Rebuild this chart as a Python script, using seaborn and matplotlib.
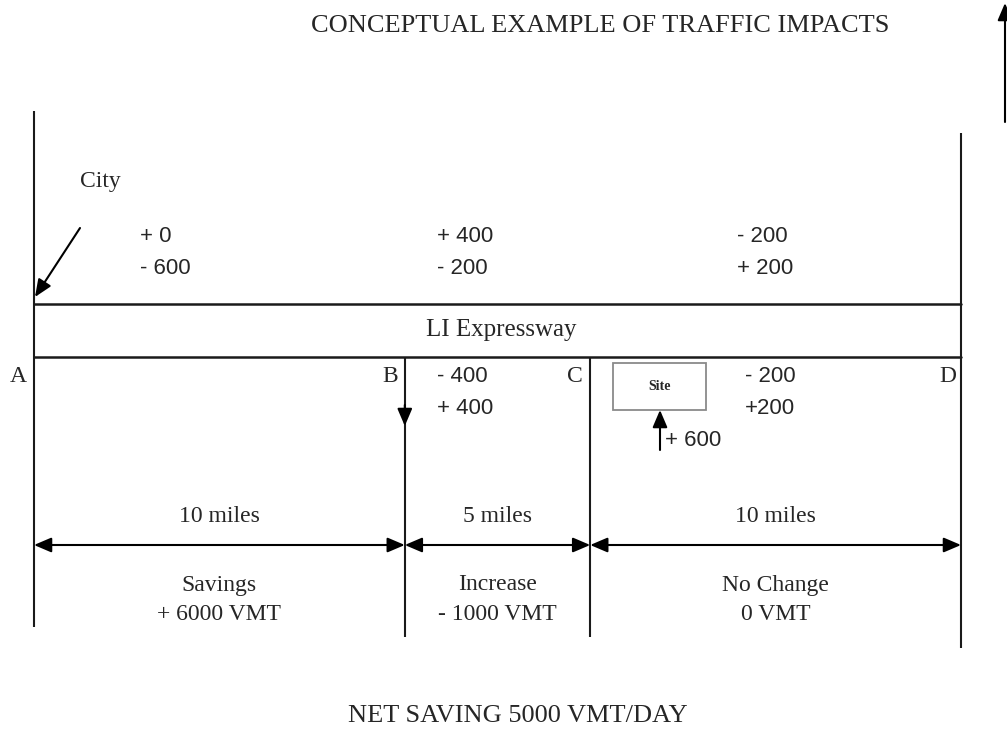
import numpy as np
import matplotlib
matplotlib.use("Agg")
import matplotlib.pyplot as plt
from matplotlib.patches import Rectangle
import seaborn as sns

# datos del esquema
section_miles = [10, 5, 10]
point_names = ["A", "B", "C", "D"]
section_labels = ["Savings", "Increase", "No Change"]
section_vmt = ["+ 6000 VMT", "- 1000 VMT", "0 VMT"]
upper_flows = [["+ 0", "- 600"], ["+ 400", "- 200"], ["- 200", "+ 200"]]
lower_flows = [["- 400", "+ 400"], ["- 200", "+200"]]
site_trips = "+ 600"
title = "CONCEPTUAL EXAMPLE OF TRAFFIC IMPACTS"
road_name = "LI Expressway"
net_text = "NET SAVING 5000 VMT/DAY"

sns.set_theme(style="white")
plt.rcParams['font.family'] = ['Liberation Serif', 'DejaVu Serif']
num_font = ['Liberation Sans Narrow', 'Liberation Sans', 'DejaVu Sans']

PX = 37.08   # px por milla
X0 = 34      # px del punto A
def mx(px):
    return (px - X0) / PX

fig = plt.figure(figsize=(10.07, 7.38), dpi=100)
ax = fig.add_axes([0, 0, 1, 1])
ax.set_xlim(mx(0), mx(1007))
ax.set_ylim(738, 0)
ax.axis("off")

bounds = np.concatenate([[0], np.cumsum(section_miles)])
centers = (bounds[:-1] + bounds[1:]) / 2
lc = "#1a1a1a"

# lineas verticales A, B, C, D
v_top = [111, 357, 357, 133]
v_bot = [627, 637, 637, 648]
for b, t, e in zip(bounds, v_top, v_bot):
    ax.plot([b, b], [t, e], color=lc, lw=1.5, solid_capstyle="butt")

# bordes de la autopista
for y in [304, 357]:
    sns.lineplot(x=[bounds[0], bounds[-1]], y=[y, y], color=lc, lw=1.8, ax=ax)

def arrow(x1, y1, x2, y2, style="-|>"):
    ax.annotate("", xy=(x2, y2), xytext=(x1, y1),
                arrowprops=dict(arrowstyle=style + ",head_length=0.75,head_width=0.32",
                                color="black", lw=1.5, shrinkA=0, shrinkB=0,
                                mutation_scale=14))

# flecha norte (arriba derecha)
arrow(mx(1005), 122, mx(1005), 3)
# flecha City
arrow(mx(80), 228, mx(35), 297)
# flecha hacia abajo en B
arrow(bounds[1], 405, bounds[1], 426)
# flecha del sitio
arrow(mx(660), 450, mx(660), 410)

# flechas de distancia
for i in range(len(section_miles)):
    arrow(bounds[i], 545, bounds[i + 1], 545, style="<|-|>")

# textos
fs = 17
nfs = 16
ax.text(mx(600), 26, title, ha="center", va="center", fontsize=19)
ax.text(mx(80), 181, "City", ha="left", va="center", fontsize=fs)
ax.text(centers.mean() + 0.1, 330, road_name, ha="center", va="center", fontsize=18)

label_x = [mx(18), mx(390), mx(575), mx(948)]
for name, x in zip(point_names, label_x):
    ax.text(x, 377, name, ha="center", va="center", fontsize=fs)

upper_x = [mx(140), mx(437), mx(737)]
for (a, b), x in zip(upper_flows, upper_x):
    ax.text(x, 237, a, ha="left", va="center", fontsize=nfs, family=num_font)
    ax.text(x, 268, b, ha="left", va="center", fontsize=nfs, family=num_font)

lower_x = [mx(437), mx(745)]
for (a, b), x in zip(lower_flows, lower_x):
    ax.text(x, 377, a, ha="left", va="center", fontsize=nfs, family=num_font)
    ax.text(x, 408, b, ha="left", va="center", fontsize=nfs, family=num_font)

# caja del sitio
ax.add_patch(Rectangle((mx(613), 363), (706 - 613) / PX, 47, fill=False,
                       edgecolor="#8a8a8a", lw=1.3))
ax.text(mx(660), 387, "Site", ha="center", va="center", fontsize=10, fontweight="bold")
ax.text(mx(665), 440, site_trips, ha="left", va="center", fontsize=nfs, family=num_font)

for miles, c, lab, v in zip(section_miles, centers, section_labels, section_vmt):
    ax.text(c, 516, f"{miles} miles", ha="center", va="center", fontsize=fs)
    ax.text(c, 585, lab, ha="center", va="center", fontsize=fs)
    ax.text(c, 614, v, ha="center", va="center", fontsize=fs)

ax.text(mx(518), 716, net_text, ha="center", va="center", fontsize=19)

fig.savefig("out.png", dpi=100)
